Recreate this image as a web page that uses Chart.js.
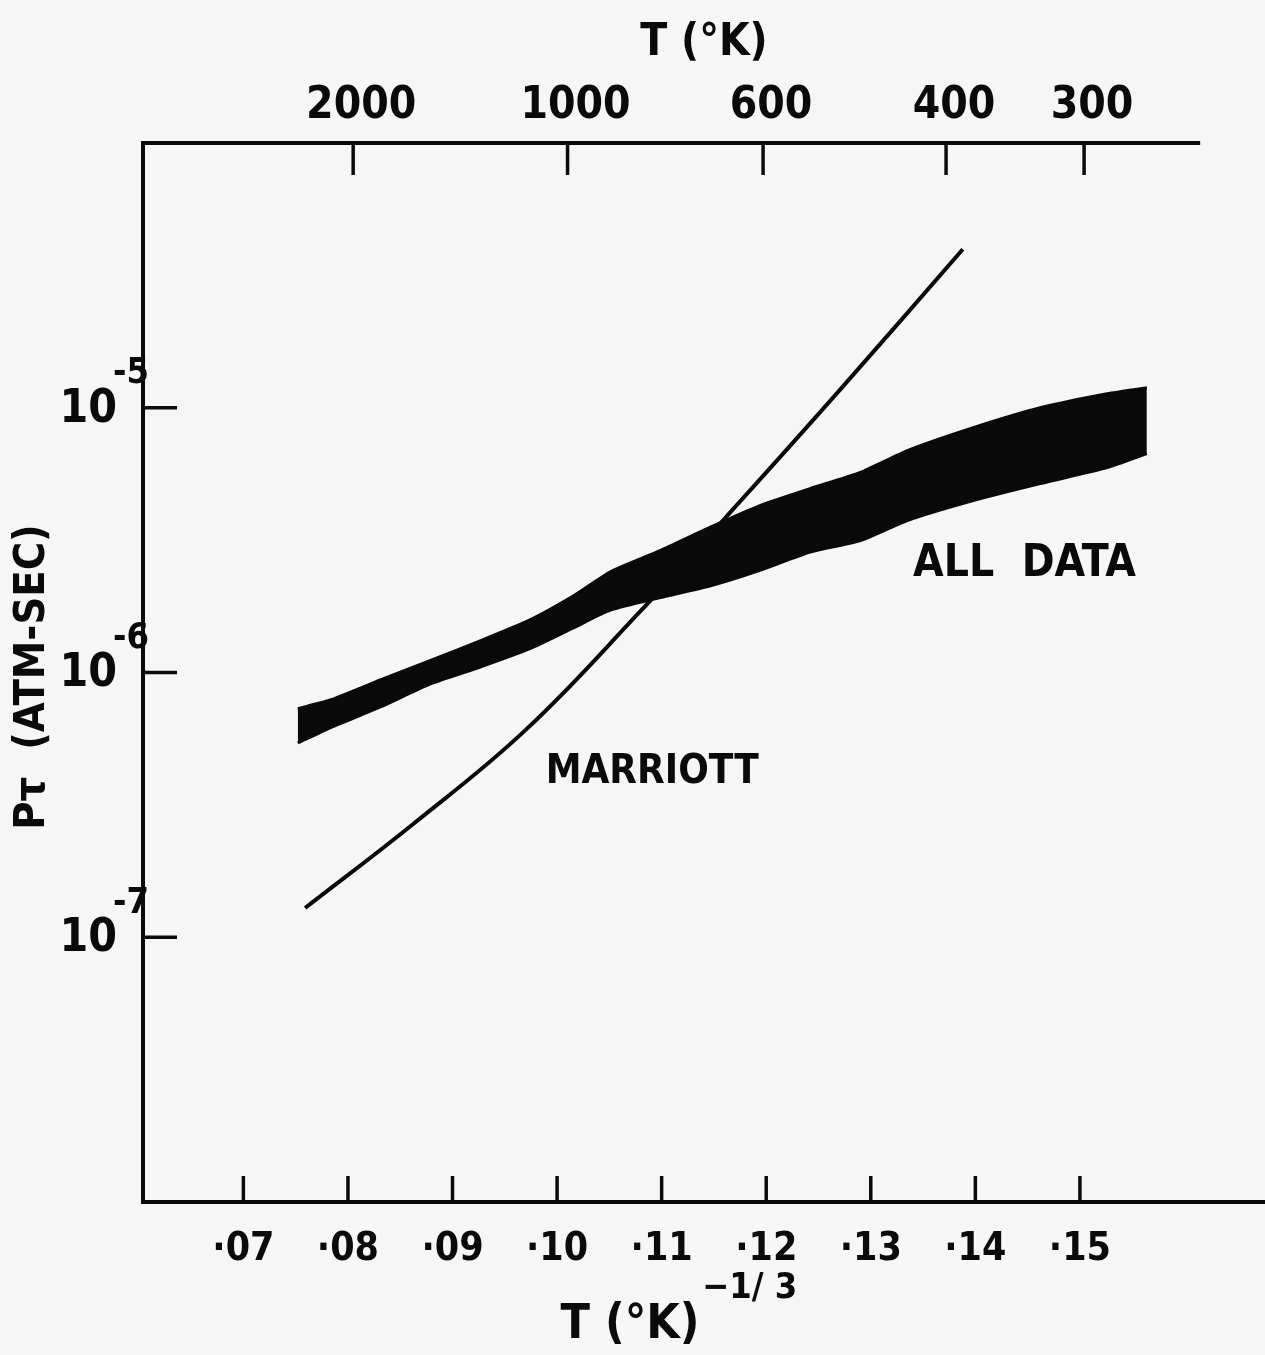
<!DOCTYPE html>
<html>
<head>
<meta charset="utf-8">
<script src="https://cdn.jsdelivr.net/npm/chart.js@4/dist/chart.umd.min.js"></script>
<style>
  html, body { margin: 0; padding: 0; background: #f6f6f6; }
  #wrap { width: 1265px; height: 1355px; }
</style>
</head>
<body>
<div id="wrap"><canvas id="chart" width="1265" height="1355"></canvas></div>
<script>
// x = T^-1/3 (degK), y = P*tau (atm-sec), log scale

// "ALL DATA" band, upper and lower edge
const bandX = [0.0752, 0.0783, 0.0831, 0.0879, 0.0927, 0.0974, 0.1015, 0.1051, 0.1099,
  0.1146, 0.1194, 0.1242, 0.1290, 0.1335, 0.1398, 0.1462, 0.1526, 0.1564];
const bandUpper = [7.3e-7, 7.87e-7, 9.37e-7, 1.11e-6, 1.32e-6, 1.58e-6, 1.94e-6, 2.40e-6, 2.89e-6,
  3.53e-6, 4.27e-6, 4.95e-6, 5.70e-6, 6.89e-6, 8.41e-6, 1.00e-5, 1.13e-5, 1.19e-5];
const bandLower = [5.42e-7, 6.18e-7, 7.41e-7, 9.05e-7, 1.05e-6, 1.23e-6, 1.47e-6, 1.72e-6, 1.92e-6,
  2.12e-6, 2.43e-6, 2.85e-6, 3.15e-6, 3.75e-6, 4.46e-6, 5.17e-6, 5.94e-6, 6.71e-6];

// Marriott curve
const marriottX = [0.0759, 0.0863, 0.0970, 0.1077, 0.1162, 0.1269, 0.1388];
const marriottY = [1.29e-7, 2.69e-7, 6.07e-7, 1.66e-6, 3.88e-6, 1.15e-5, 3.97e-5];

// axes
const xMin = 0.0604, xMax = 0.1677;
const yMin = 1e-8, yMax = 1e-4;
const bottomTicks = [0.07, 0.08, 0.09, 0.10, 0.11, 0.12, 0.13, 0.14, 0.15];
const bottomTickLabels = ['·07', '·08', '·09', '·10', '·11', '·12', '·13', '·14', '·15'];
const topTickPos = [0.0805, 0.1010, 0.1197, 0.1372, 0.1504];
const topTickLabels = ['2000', '1000', '600', '400', '300'];
const topLineEnd = 0.1615;
const yTicks = [1e-7, 1e-6, 1e-5];
const yTickExp = ['-7', '-6', '-5'];

// curve labels
const noteText = ['MARRIOTT', 'ALL  DATA'];
const noteX = [0.1091, 0.1447];
const noteY = [4.2e-7, 2.56e-6];

const FONT = "'DejaVu Sans Condensed', 'DejaVu Sans', sans-serif";
const INK = '#0a0a0a';

const paperPlugin = {
  id: 'paper',
  beforeDraw(chart) {
    const ctx = chart.ctx;
    ctx.save();
    ctx.fillStyle = '#f6f6f6';
    ctx.fillRect(0, 0, chart.width, chart.height);
    ctx.restore();
  },
  afterDraw(chart) {
    const ctx = chart.ctx;
    const area = chart.chartArea;
    const x = chart.scales.x, y = chart.scales.y;
    ctx.save();
    ctx.strokeStyle = INK;
    ctx.fillStyle = INK;
    ctx.lineWidth = 4;
    ctx.lineCap = 'butt';

    // top frame line, stops short of the right edge
    ctx.beginPath();
    ctx.moveTo(area.left - 2, area.top);
    ctx.lineTo(x.getPixelForValue(topLineEnd), area.top);
    ctx.stroke();

    // inward tick marks
    ctx.lineWidth = 3.5;
    bottomTicks.forEach(v => {
      const px = x.getPixelForValue(v);
      ctx.beginPath();
      ctx.moveTo(px, area.bottom);
      ctx.lineTo(px, area.bottom - 26);
      ctx.stroke();
    });
    topTickPos.forEach(v => {
      const px = x.getPixelForValue(v);
      ctx.beginPath();
      ctx.moveTo(px, area.top);
      ctx.lineTo(px, area.top + 32);
      ctx.stroke();
    });
    yTicks.forEach(v => {
      const py = y.getPixelForValue(v);
      ctx.beginPath();
      ctx.moveTo(area.left, py);
      ctx.lineTo(area.left + 34, py);
      ctx.stroke();
    });

    // y tick labels 10^n
    ctx.textBaseline = 'middle';
    yTicks.forEach((v, i) => {
      const py = y.getPixelForValue(v);
      ctx.font = `bold 46px ${FONT}`;
      ctx.textAlign = 'right';
      ctx.fillText('10', area.left - 26, py + 2);
      ctx.font = `bold 36px ${FONT}`;
      ctx.textAlign = 'left';
      ctx.fillText(yTickExp[i], area.left - 30, py - 34);
    });

    // y title
    ctx.save();
    ctx.translate(33, 677);
    ctx.rotate(-Math.PI / 2);
    ctx.textAlign = 'center';
    ctx.font = `bold 43px ${FONT}`;
    ctx.fillText('Pτ  (ATM-SEC)', 0, 0);
    ctx.restore();

    // top title
    ctx.textAlign = 'center';
    ctx.font = `bold 44px ${FONT}`;
    ctx.fillText('T (°K)', 704, 44);

    // bottom title with exponent
    ctx.font = `bold 48px ${FONT}`;
    ctx.fillText('T (°K)', 630, 1326);
    ctx.font = `bold 36px ${FONT}`;
    ctx.textAlign = 'left';
    ctx.fillText('−1/ 3', 702, 1289);

    // curve labels
    ctx.textAlign = 'center';
    noteText.forEach((t, i) => {
      ctx.font = `bold ${i === 0 ? 40 : 44}px ${FONT}`;
      ctx.fillText(t, x.getPixelForValue(noteX[i]), y.getPixelForValue(noteY[i]));
    });
    ctx.restore();
  }
};

new Chart(document.getElementById('chart'), {
  type: 'line',
  data: {
    datasets: [
      {
        label: 'All data upper',
        data: bandX.map((v, i) => ({ x: v, y: bandUpper[i] })),
        borderColor: INK,
        borderWidth: 3,
        pointRadius: 0,
        tension: 0.2,
        fill: false
      },
      {
        label: 'All data lower',
        data: bandX.map((v, i) => ({ x: v, y: bandLower[i] })),
        borderColor: INK,
        borderWidth: 3,
        backgroundColor: INK,
        pointRadius: 0,
        tension: 0.2,
        fill: '-1'
      },
      {
        label: 'Marriott',
        data: marriottX.map((v, i) => ({ x: v, y: marriottY[i] })),
        borderColor: INK,
        borderWidth: 4,
        pointRadius: 0,
        tension: 0.4,
        fill: false
      }
    ]
  },
  options: {
    responsive: false,
    animation: false,
    layout: { padding: 0 },
    plugins: {
      legend: { display: false },
      tooltip: { enabled: false }
    },
    scales: {
      x: {
        type: 'linear',
        position: 'bottom',
        min: xMin,
        max: xMax,
        afterBuildTicks: s => { s.ticks = bottomTicks.map(v => ({ value: v })); },
        afterFit: s => { s.height = 153; },
        ticks: {
          autoSkip: false,
          maxRotation: 0,
          padding: 16,
          color: INK,
          font: { family: FONT, size: 39, weight: 'bold' },
          callback: (v, i) => bottomTickLabels[i]
        },
        grid: { display: false },
        border: { display: true, color: INK, width: 4 }
      },
      x2: {
        type: 'linear',
        position: 'top',
        min: xMin,
        max: xMax,
        afterBuildTicks: s => { s.ticks = topTickPos.map(v => ({ value: v })); },
        afterFit: s => { s.height = 143; },
        ticks: {
          autoSkip: false,
          maxRotation: 0,
          padding: 2,
          labelOffset: 8,
          color: INK,
          font: { family: FONT, size: 44, weight: 'bold' },
          callback: (v, i) => topTickLabels[i]
        },
        grid: { display: false },
        border: { display: false }
      },
      y: {
        type: 'logarithmic',
        position: 'left',
        min: yMin,
        max: yMax,
        afterFit: s => { s.width = 143; },
        ticks: { display: false },
        grid: { display: false },
        border: { display: true, color: INK, width: 4 }
      }
    }
  },
  plugins: [paperPlugin]
});
</script>
</body>
</html>
